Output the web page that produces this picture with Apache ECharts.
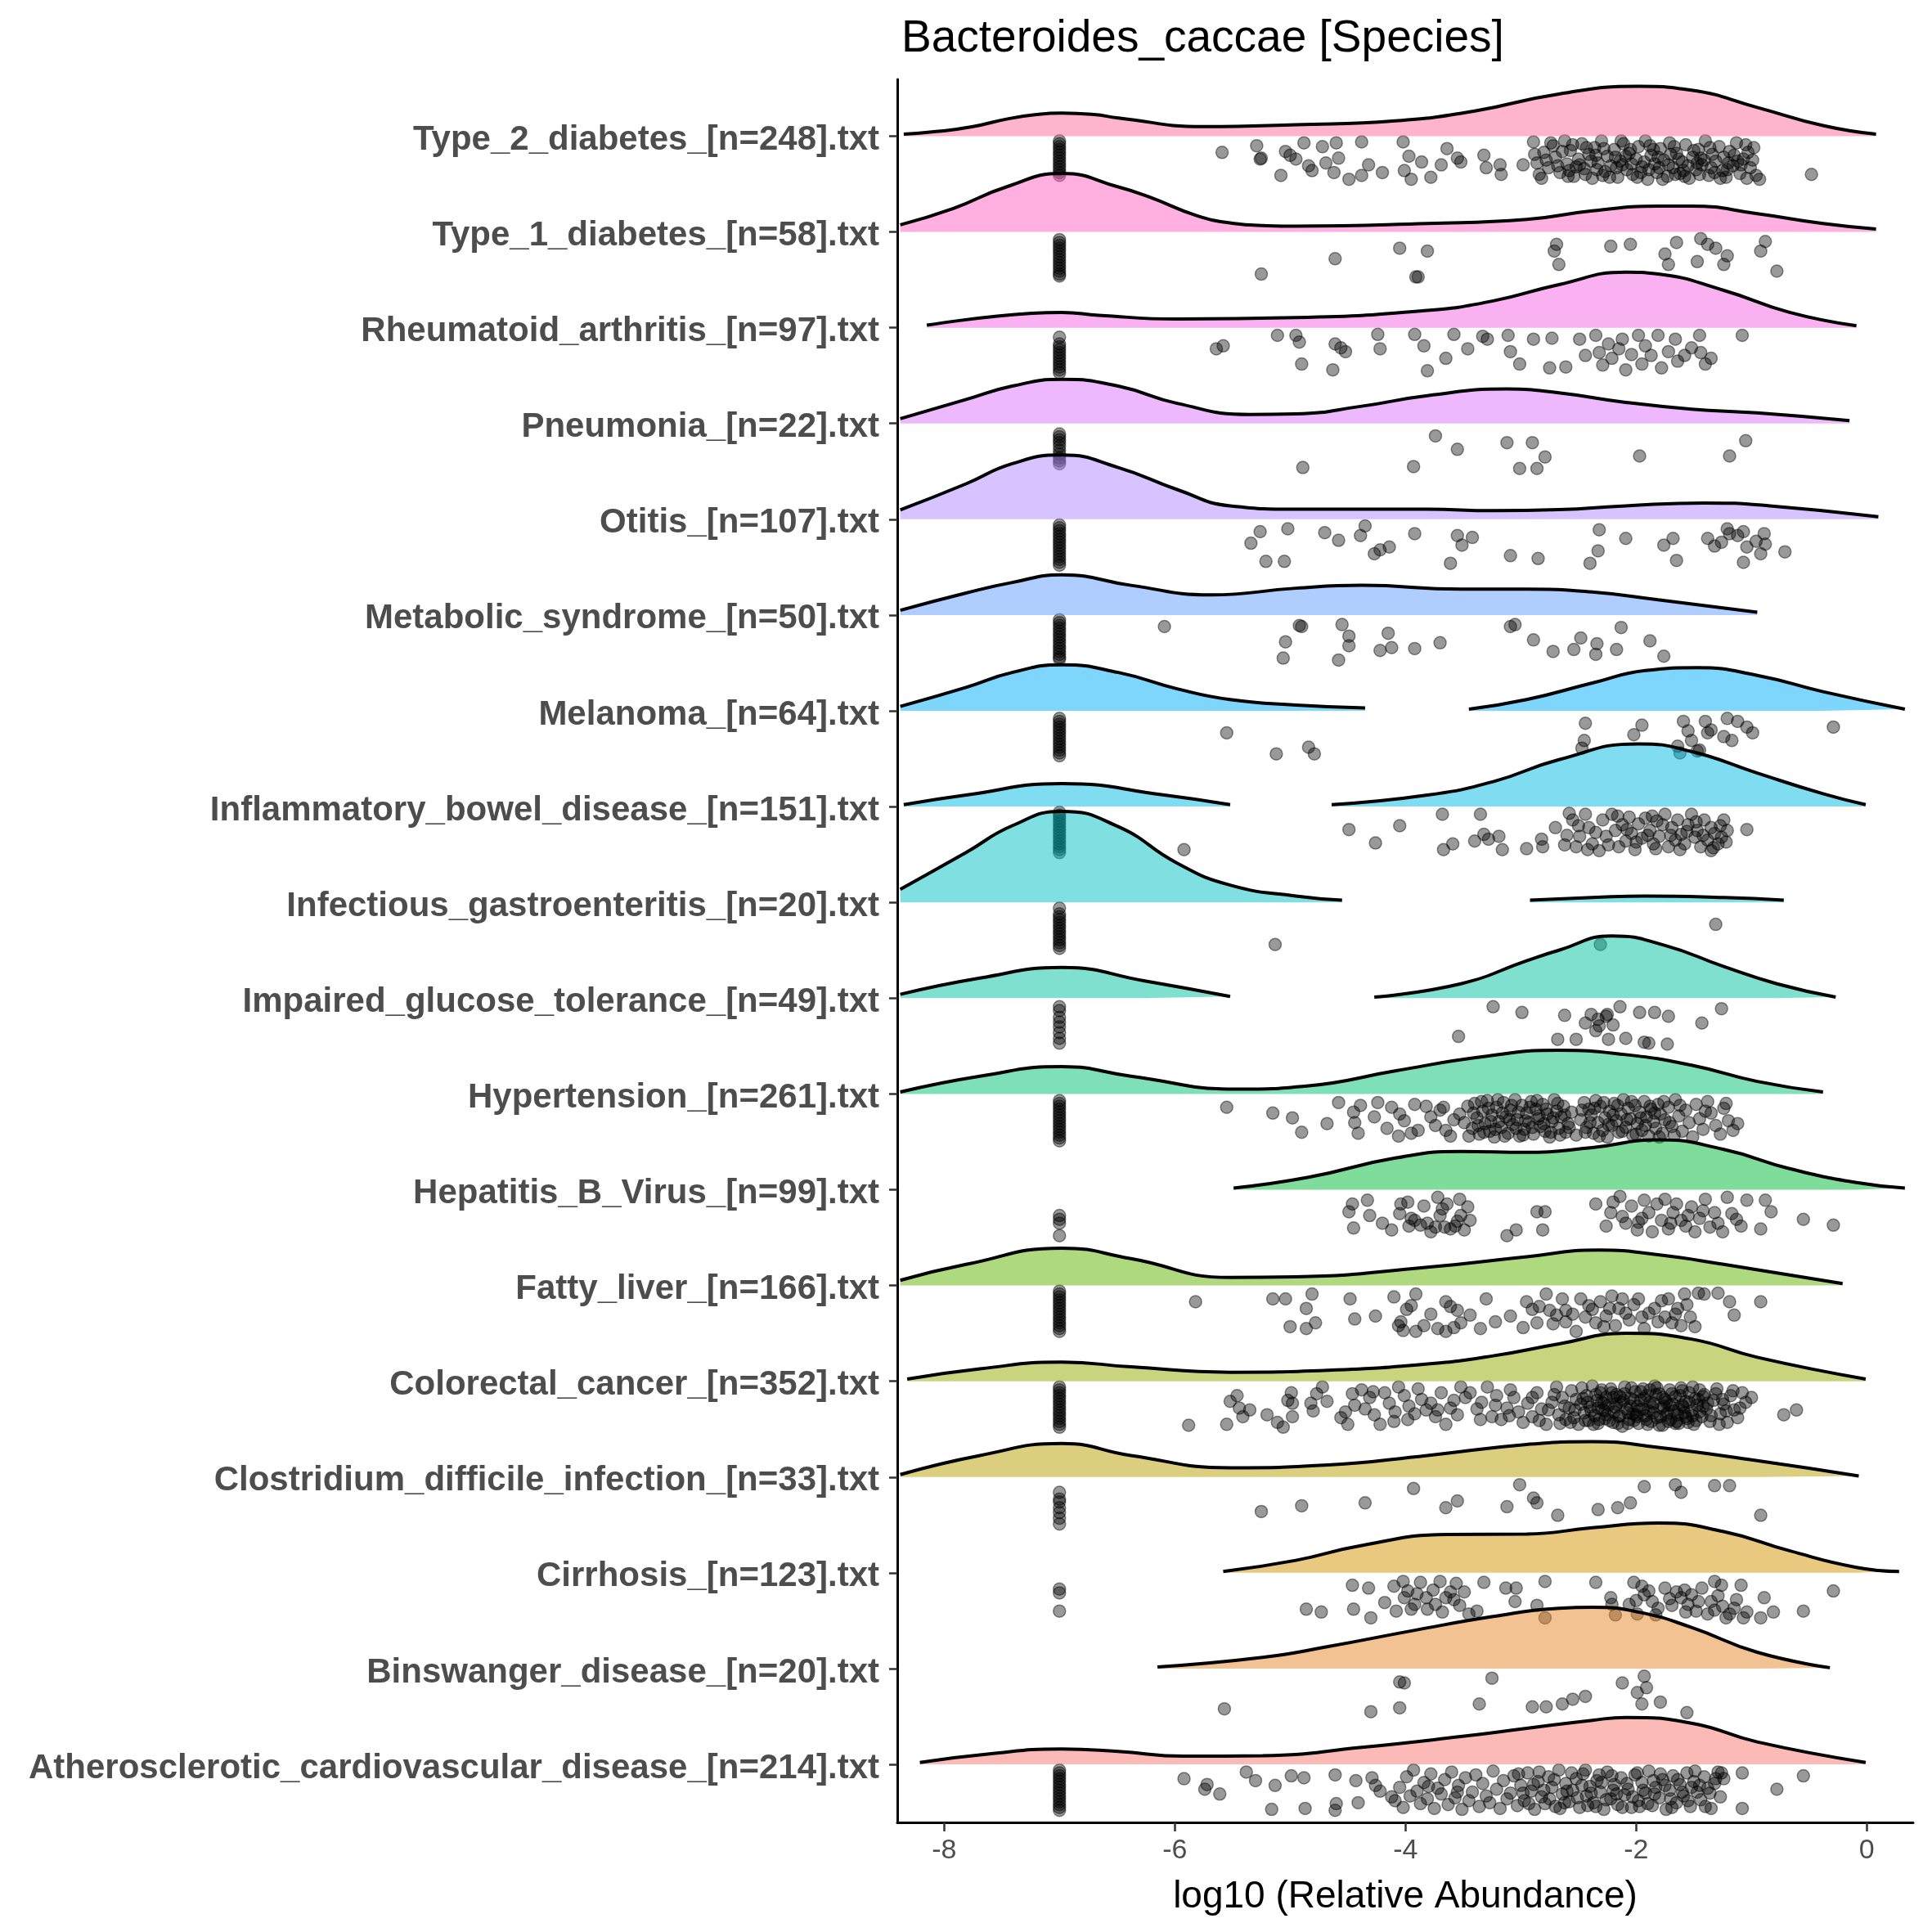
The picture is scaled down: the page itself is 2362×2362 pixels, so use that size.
<!DOCTYPE html>
<html>
<head>
<meta charset="utf-8">
<script src="https://cdn.jsdelivr.net/npm/echarts@6/dist/echarts.min.js"></script>
</head>
<body style="margin:0">
<div id="main" style="width:2362px;height:2362px;"></div>
<script type="text/javascript">
// rows, bottom to top (same order as the y axis)
var categories = [
    'Atherosclerotic_cardiovascular_disease_[n=214].txt',
    'Binswanger_disease_[n=20].txt',
    'Cirrhosis_[n=123].txt',
    'Clostridium_difficile_infection_[n=33].txt',
    'Colorectal_cancer_[n=352].txt',
    'Fatty_liver_[n=166].txt',
    'Hepatitis_B_Virus_[n=99].txt',
    'Hypertension_[n=261].txt',
    'Impaired_glucose_tolerance_[n=49].txt',
    'Infectious_gastroenteritis_[n=20].txt',
    'Inflammatory_bowel_disease_[n=151].txt',
    'Melanoma_[n=64].txt',
    'Metabolic_syndrome_[n=50].txt',
    'Otitis_[n=107].txt',
    'Pneumonia_[n=22].txt',
    'Rheumatoid_arthritis_[n=97].txt',
    'Type_1_diabetes_[n=58].txt',
    'Type_2_diabetes_[n=248].txt'
];
var xTicks = [-8, -6, -4, -2, 0];

// ridge heights [log10 abundance, height in row units], one array per segment
var densAthero = [[[-8.21,.02],[-7.64,.105],[-6.98,.16],[-6.49,.134],[-5.92,.085],[-5.24,.09],[-4.38,.177],[-3.52,.29],[-2.95,.376],[-2.38,.46],[-2.09,.49],[-1.52,.43],[-0.95,.234],[-0.01,.02]]];
var densBinswanger = [[[-6.15,.017],[-5.24,.117],[-4.67,.23],[-3.92,.40],[-3.24,.544],[-2.67,.63],[-2.38,.64],[-1.98,.59],[-1.52,.43],[-0.95,.17],[-0.32,.009]]];
var densCirrhosis = [[[-5.58,.014],[-4.95,.13],[-4.38,.285],[-3.64,.40],[-2.95,.405],[-2.38,.47],[-1.81,.52],[-1.24,.43],[-0.67,.23],[-0.09,.057],[0.28,.014]]];
var densClostridium = [[[-8.38,.026],[-7.69,.225],[-6.98,.35],[-6.38,.225],[-5.52,.097],[-4.67,.125],[-3.81,.225],[-2.95,.34],[-2.38,.37],[-1.81,.31],[-0.95,.17],[-0.07,.011]]];
var densColorectal = [[[-8.32,.023],[-7.69,.13],[-6.98,.20],[-6.38,.15],[-5.52,.094],[-4.67,.114],[-3.81,.18],[-3.24,.265],[-2.67,.39],[-2.09,.50],[-1.52,.44],[-0.95,.25],[-0.01,.023]]];
var densFatty = [[[-8.38,.054],[-7.81,.22],[-6.98,.39],[-6.38,.28],[-5.52,.083],[-4.95,.09],[-3.81,.19],[-2.95,.30],[-2.32,.37],[-1.81,.32],[-1.24,.22],[-0.21,.02]]];
var densHepB = [[[-5.49,.017],[-4.84,.13],[-4.09,.33],[-3.52,.40],[-2.95,.39],[-2.38,.44],[-1.81,.52],[-1.24,.42],[-0.67,.22],[-0.09,.074],[0.33,.017]]];
var densHypertension = [[[-8.38,.02],[-7.69,.185],[-6.98,.285],[-6.38,.185],[-5.46,.05],[-4.84,.085],[-4.09,.24],[-3.35,.385],[-2.67,.456],[-2.09,.41],[-1.52,.30],[-0.95,.13],[-0.38,.02]]];
var densImpaired = [
    [[-8.38,.04],[-7.69,.21],[-6.98,.32],[-6.26,.18],[-5.52,.017]],
    [[-4.27,.011],[-3.52,.15],[-2.95,.39],[-2.67,.5],[-2.21,.65],[-1.75,.55],[-1.24,.33],[-0.78,.15],[-0.27,.011]]
];
var densInfectious = [
    [[-8.38,.137],[-7.81,.52],[-7.41,.80],[-6.98,.95],[-6.49,.79],[-5.98,.41],[-5.52,.18],[-4.95,.066],[-4.55,.023]],
    [[-2.92,.023],[-2.38,.05],[-1.92,.066],[-1.24,.05],[-0.72,.023]]
];
var densIBD = [
    [[-8.35,.02],[-7.81,.12],[-6.98,.24],[-6.09,.12],[-5.52,.02]],
    [[-4.64,.02],[-3.81,.12],[-3.24,.26],[-2.67,.49],[-1.98,.655],[-1.52,.575],[-0.95,.35],[-0.38,.134],[-0.01,.02]]
];
var densMelanoma = [
    [[-8.38,.046],[-7.81,.245],[-7.41,.40],[-6.98,.48],[-6.49,.40],[-5.98,.23],[-5.52,.117],[-4.95,.06],[-4.35,.03]],
    [[-3.45,.017],[-2.95,.117],[-2.38,.29],[-1.92,.42],[-1.47,.45],[-0.95,.37],[-0.38,.20],[0.33,.017]]
];
var densMetabolic = [[[-8.38,.05],[-7.81,.23],[-7.41,.34],[-6.98,.42],[-6.38,.31],[-5.69,.21],[-4.95,.28],[-4.38,.31],[-3.52,.27],[-2.95,.27],[-2.38,.24],[-1.81,.16],[-0.95,.03]]];
var densOtitis = [[[-8.38,.097],[-7.81,.37],[-7.41,.58],[-6.98,.67],[-6.49,.54],[-5.98,.31],[-5.52,.14],[-4.95,.105],[-3.81,.105],[-3.24,.09],[-2.67,.10],[-2.09,.14],[-1.41,.17],[-0.84,.14],[0.10,.026]]];
var densPneumonia = [[[-8.38,.05],[-7.81,.25],[-7.41,.39],[-6.98,.46],[-6.49,.39],[-5.98,.21],[-5.35,.094],[-4.95,.10],[-4.38,.18],[-3.81,.29],[-3.12,.36],[-2.67,.32],[-2.09,.22],[-1.52,.15],[-0.95,.11],[-0.15,.03]]];
var densRheumatoid = [[[-8.15,.026],[-7.24,.15],[-6.98,.16],[-6.66,.13],[-5.98,.09],[-4.95,.105],[-3.81,.18],[-3.24,.28],[-2.67,.45],[-2.09,.58],[-1.81,.56],[-1.24,.39],[-0.67,.16],[-0.09,.02]]];
var densType1 = [[[-8.38,.074],[-7.92,.245],[-7.46,.47],[-6.98,.61],[-6.49,.47],[-6.21,.36],[-5.81,.17],[-5.50,.09],[-5.20,.065],[-4.95,.06],[-3.81,.088],[-2.95,.13],[-2.38,.22],[-1.81,.27],[-1.52,.27],[-0.95,.19],[-0.38,.088],[0.08,.03]]];
var densType2 = [[[-8.35,.02],[-8.05,.05],[-7.75,.10],[-7.45,.18],[-7.20,.225],[-6.98,.24],[-6.70,.225],[-6.49,.19],[-5.75,.10],[-4.95,.12],[-4.09,.16],[-3.41,.26],[-2.67,.44],[-1.98,.52],[-1.52,.48],[-0.95,.30],[-0.38,.11],[0.08,.02]]];

// non-zero samples [log10 abundance, drop below the row baseline]
var ptsAthero = [[-5.92,.15],[-5.74,.26],[-5.72,.21],[-5.61,.31],[-5.38,.08],[-5.30,.17],[-5.16,.47],[-5.13,.22],[-4.99,.12],[-4.88,.14],[-4.87,.46],[-4.61,.11],[-4.60,.41],[-4.61,.48],[-4.43,.17],[-4.41,.40],[-4.29,.14],[-4.26,.22],[-4.22,.28],[-4.12,.34],[-4.09,.38],
    [-4.05,.24],[-4.02,.45],[-3.99,.13],[-3.96,.33],[-3.93,.06],[-3.90,.28],[-3.87,.41],[-3.84,.19],[-3.81,.36],[-3.78,.10],[-3.75,.46],[-3.72,.25],[-3.69,.31],[-3.66,.16],[-3.63,.42],[-3.60,.08],[-3.57,.35],[-3.54,.22],[-3.51,.47],[-3.48,.14],[-3.45,.38],[-3.42,.29],[-3.39,.11],[-3.36,.44],[-3.33,.20],[-3.30,.33],[-3.27,.40],[-3.24,.07],[-3.21,.26],[-3.18,.46],[-3.15,.17],[-3.12,.36],[-3.09,.30],[-3.06,.12],[-3.03,.43],[-3.00,.22],[-2.97,.38],[-2.94,.09],[-2.91,.28],[-2.88,.47],[-2.85,.18],[-2.82,.34],[-2.79,.41],[-2.76,.13],[-2.73,.24],[-2.70,.44],[-2.67,.06],[-2.64,.31],[-2.61,.20],[-2.58,.39],[-2.55,.27],[-2.52,.15],[-2.49,.45],[-2.46,.10],[-2.43,.33],[-2.40,.23],[-2.37,.40],[-2.34,.17],[-2.31,.29],[-2.28,.47],[-2.25,.08],[-2.22,.36],[-2.19,.21],[-2.16,.42],[-2.13,.14],[-2.10,.32],[-2.07,.26],[-2.04,.45],[-2.01,.11],[-1.98,.38],[-1.95,.19],[-1.92,.30],[-1.89,.07],[-1.86,.43],[-1.83,.24],[-1.80,.35],[-1.77,.16],[-1.74,.47],[-1.71,.27],[-1.68,.12],[-1.65,.40],[-1.62,.21],[-1.59,.33],[-1.56,.09],[-1.53,.44],[-1.50,.18],[-1.47,.29],[-1.44,.37],[-1.41,.13],[-1.38,.25],[-1.35,.46],[-1.32,.20],[-1.29,.08],[-1.27,.34],[-2.42,.43],[-2.20,.27],[-1.97,.44],[-1.70,.36],[-1.52,.24],[-2.62,.40],[-2.32,.11],[-1.85,.17],
    [-1.08,.46],[-1.08,.09],[-0.78,.26],[-0.55,.12],[-1.26,.09],[-1.24,.15],
    [-3.02,.10],[-2.98,.30],[-2.93,.41],[-2.89,.21],[-2.84,.08],[-2.80,.27],[-2.75,.36],[-2.71,.16],[-2.66,.46],[-2.60,.28],[-2.56,.09],[-2.51,.35],[-2.47,.22],[-2.44,.06],[-2.39,.30],[-2.35,.44],[-2.30,.19],[-2.26,.37],[-2.21,.12],[-2.17,.31],[-2.12,.45],[-2.08,.20],[-2.03,.34],[-1.99,.09],[-1.94,.27],[-1.90,.41],[-1.84,.31],[-1.79,.10],[-1.75,.22],[-1.69,.45],[-1.64,.16],[-1.60,.29],[-1.55,.38],[-1.49,.07],[-1.45,.22],[-1.40,.44],[-1.36,.30],[-1.31,.15],[-3.55,.29],[-3.80,.23]];
var ptsBinswanger = [[-5.57,.42],[-4.30,.45],[-4.05,.41],[-4.05,.14],[-4.01,.15],[-3.36,.37],[-3.25,.10],[-2.90,.40],[-2.78,.40],[-2.64,.37],[-2.55,.32],[-2.44,.29],[-2.12,.15],[-1.99,.25],[-1.95,.37],[-1.93,.08],[-1.91,.20],[-1.79,.35],[-1.56,.46]];
var ptsCirrhosis = [[-4.86,.38],[-4.73,.41],[-4.46,.13],[-4.45,.38],[-4.32,.16],[-4.30,.47],[-4.10,.14],[-4.08,.40],[-4.02,.09],[-4.01,.26],[-3.98,.19],[-3.95,.38],[-3.92,.33],[-3.87,.10],[-3.82,.26],[-3.81,.38],[-3.76,.18],[-3.70,.09],[-3.68,.41],[-3.65,.26],[-3.61,.20],[-3.56,.11],[-3.53,.34],[-3.49,.20],[-3.45,.43],[-3.38,.40],[-3.32,.10],[-3.13,.16],[-3.05,.30],[-3.04,.16],[-2.86,.34],[-2.79,.09],[-2.79,.47],
    [-2.35,.10],[-2.22,.26],[-2.21,.33],[-2.18,.44],[-2.06,.33],[-2.02,.10],[-1.99,.43],[-1.95,.14],[-1.93,.23],[-1.89,.19],[-1.86,.30],[-1.81,.37],[-1.75,.16],[-1.69,.34],[-1.65,.20],[-1.61,.26],[-1.57,.41],[-1.52,.23],[-1.46,.30],[-1.43,.16],[-1.38,.43],[-1.32,.09],[-1.29,.24],[-1.26,.13],[-1.22,.47],[-1.19,.43],[-1.13,.28],[-1.09,.13],[-1.07,.47],[-1.04,.41],[-0.92,.47],[-0.89,.26],[-0.81,.41],[-0.55,.40],[-0.29,.19],[-1.32,.39],[-1.55,.33],
    [-3.90,.22],[-3.74,.33],[-3.58,.28],[-4.18,.31],[-1.71,.27],[-1.58,.18],[-1.48,.40],[-1.35,.30],[-1.15,.37],[-2.00,.29],[-1.83,.44],[-1.25,.35]];
var ptsClostridium = [[-5.25,.36],[-4.90,.30],[-4.35,.27],[-3.93,.12],[-3.65,.32],[-3.55,.25],[-3.12,.31],[-3.01,.08],[-2.89,.22],[-2.86,.27],[-2.68,.40],[-2.33,.34],[-2.16,.32],[-2.05,.27],[-1.93,.10],[-1.66,.08],[-1.61,.16],[-1.32,.09],[-1.19,.09],[-0.92,.40]];
var ptsColorectal = [[-5.88,.46],[-5.55,.45],[-5.52,.21],[-5.46,.15],[-5.44,.28],[-5.41,.37],[-5.20,.35],[-5.11,.43],[-5.06,.48],[-4.99,.12],[-4.98,.37],[-4.98,.23],[-4.82,.23],[-4.77,.13],[-4.72,.06],[-4.68,.21],[-4.52,.32],[-4.50,.45],[-4.46,.13],[-4.44,.25],[-4.38,.09],[-4.35,.29],[-4.31,.17],[-4.27,.35],[-4.22,.45],[-4.18,.12],[-4.14,.23],[-4.09,.32],[-4.06,.06],[-4.01,.15],[-3.98,.40],[-3.97,.26],[-3.89,.08],[-3.86,.19],[-3.82,.30],[-3.78,.23],[-3.74,.37],[-3.69,.12],[-3.65,.45],[-3.61,.28],[-3.55,.35],[-3.52,.06],[-3.48,.17],[-3.44,.12],[-3.38,.29],[-3.34,.22],[-3.29,.06],[-3.25,.37],[-3.21,.15],[-3.17,.40],[-3.12,.28],[-3.09,.09],[-3.06,.17],[-3.02,.32],[-2.98,.43],[-2.94,.23],[-2.90,.37],[-2.86,.12],[-2.82,.29],[-2.78,.45],[-2.73,.22],[-2.69,.06],[-2.67,.35],[-2.64,.17],[-2.61,.40],
    [-2.58,.28],[-2.56,.10],[-2.54,.38],[-2.52,.19],[-2.50,.45],[-2.48,.24],[-2.47,.07],[-2.45,.33],[-2.43,.15],[-2.41,.41],[-2.40,.27],[-2.38,.05],[-2.36,.36],[-2.34,.20],[-2.33,.44],[-2.31,.12],[-2.29,.30],[-2.27,.39],[-2.26,.17],[-2.24,.25],[-2.22,.08],[-2.20,.43],[-2.19,.32],[-2.17,.14],[-2.15,.37],[-2.13,.22],[-2.12,.47],[-2.10,.06],[-2.08,.29],[-2.06,.40],[-2.05,.18],[-2.03,.34],[-2.01,.11],[-1.99,.26],[-1.98,.44],[-1.96,.20],[-1.94,.08],[-1.92,.36],[-1.91,.15],[-1.89,.31],[-1.87,.42],[-1.85,.23],[-1.84,.05],[-1.82,.38],[-1.80,.13],[-1.78,.28],[-1.77,.46],[-1.75,.19],[-1.73,.33],[-1.71,.09],[-1.70,.40],[-1.68,.24],[-1.66,.16],[-1.64,.35],[-1.63,.44],[-1.61,.07],[-1.59,.27],[-1.57,.21],[-1.56,.39],[-1.54,.12],[-1.52,.31],[-1.50,.45],[-1.49,.18],[-1.47,.25],[-1.45,.09],[-1.43,.37],[-1.41,.14],[-1.39,.29],[-1.36,.42],[-1.33,.20],[-1.30,.08],[-1.27,.34],[-1.24,.24],[-1.21,.43],[-1.18,.15],[-1.15,.30],[-1.12,.38],[-1.08,.12],[-1.05,.22],[-1.00,.17],[-0.72,.35],[-0.61,.30],[-2.30,.22],[-2.00,.35],[-1.76,.26],[-1.58,.33],[-2.44,.41],[-2.14,.16],[-1.88,.09],[-1.65,.42],
    [-2.39,.31],[-2.35,.14],[-2.32,.40],[-2.28,.23],[-2.25,.35],[-2.21,.12],[-2.18,.27],[-2.16,.44],[-2.11,.20],[-2.07,.33],[-2.04,.07],[-2.02,.41],[-1.97,.30],[-1.93,.18],[-1.90,.45],[-1.86,.27],[-1.83,.14],[-1.79,.37],[-1.74,.22],[-1.72,.42],[-1.67,.31],[-1.62,.15],[-1.60,.25],[-1.55,.43],[-1.51,.36],[-1.46,.19],[-2.46,.18],[-2.53,.30],[-2.57,.43],[-1.42,.26],
    [-2.42,.22],[-2.37,.45],[-2.33,.28],[-2.30,.09],[-2.27,.31],[-2.23,.41],[-2.20,.17],[-2.17,.24],[-2.14,.36],[-2.10,.13],[-2.07,.44],[-2.05,.26],[-2.02,.20],[-1.99,.37],[-1.96,.11],[-1.94,.29],[-1.91,.40],[-1.88,.22],[-1.85,.33],[-1.82,.07],[-1.80,.46],[-1.77,.17],[-1.74,.35],[-1.71,.25],[-1.69,.13],[-1.66,.44],[-1.63,.29],[-1.60,.10],[-1.57,.37],[-1.54,.22],[-1.51,.06],[-1.48,.41],[-1.45,.32],[-1.42,.16],[-1.38,.23],[-1.35,.36],[-1.31,.13],[-1.28,.45],[-1.25,.19],[-1.22,.31],
    [-2.90,.17],[-2.84,.41],[-2.76,.30],[-2.71,.14],[-2.66,.44],[-2.62,.26],[-3.10,.36],[-3.22,.25],[-3.35,.40],[-3.58,.20],[-3.72,.30],[-3.92,.34],[-4.10,.42],[-4.28,.11],[-4.56,.38],[-4.80,.31],[-5.02,.20],[-5.35,.30],[-1.16,.10],[-1.10,.28]];
var ptsFatty = [[-5.82,.17],[-5.15,.14],[-5.04,.14],[-4.81,.09],[-4.86,.24],[-4.78,.39],[-5.00,.43],[-4.86,.45],[-4.48,.14],[-4.44,.35],[-4.26,.32],[-4.10,.12],[-4.06,.42],[-4.04,.38],[-3.99,.25],[-3.95,.21],[-3.91,.09],[-3.91,.48],[-3.84,.42],[-3.72,.45],[-3.65,.48],[-3.65,.17],[-3.61,.22],[-3.55,.26],[-3.52,.39],[-3.44,.31],[-3.30,.14],[-3.22,.38],[-3.09,.32],[-2.95,.17],[-2.90,.25],[-2.86,.39],[-2.84,.22],[-2.78,.09],[-2.75,.26],[-2.69,.31],[-2.64,.14],[-2.61,.38],[-2.52,.48],[-2.48,.14],[-2.41,.21],[-2.38,.25],[-2.35,.39],[-2.26,.32],[-2.21,.11],[-2.18,.42],[-2.12,.14],[-2.09,.29],[-2.06,.36],[-1.98,.14],[-1.93,.45],[-1.89,.29],[-1.84,.24],[-1.75,.33],[-1.72,.14],[-1.69,.39],[-1.64,.24],[-1.58,.09],[-1.53,.33],[-1.49,.43],[-1.46,.08],[-1.41,.09],[-1.29,.08],[-1.19,.17],[-1.15,.31],[-0.92,.17],[-2.61,.26],[-2.28,.43],[-2.15,.24],[-1.81,.38],[-1.61,.42],
    [-2.72,.40],[-2.55,.30],[-2.44,.33],[-2.31,.17],[-2.23,.24],[-2.02,.20],[-1.95,.33],[-1.78,.16],[-1.66,.30],[-1.56,.20],[-3.35,.45],[-3.78,.30],[-4.02,.47],[-3.58,.44],[-2.98,.44]];
var ptsHepB = [[-4.46,.15],[-4.49,.23],[-4.45,.40],[-4.33,.11],[-4.31,.27],[-4.12,.42],[-4.05,.25],[-3.98,.13],[-3.97,.38],[-3.92,.32],[-3.84,.17],[-3.81,.35],[-3.78,.44],[-3.72,.08],[-3.70,.27],[-3.66,.39],[-3.64,.15],[-3.61,.41],[-3.57,.38],[-3.53,.10],[-3.52,.27],[-3.49,.42],[-3.46,.18],[-3.44,.32],[-4.04,.15],[-3.87,.37],[-3.74,.39],
    [-3.12,.48],[-3.04,.42],[-2.86,.23],[-2.81,.42],[-2.79,.23],
    [-2.35,.15],[-2.26,.38],[-2.22,.24],[-2.20,.13],[-2.14,.07],[-2.09,.35],[-2.04,.17],[-1.99,.42],[-1.98,.34],[-1.93,.11],[-1.89,.24],[-1.86,.44],[-1.82,.15],[-1.78,.32],[-1.75,.10],[-1.72,.41],[-1.68,.24],[-1.65,.15],[-1.61,.32],[-1.57,.38],[-1.52,.18],[-1.49,.44],[-1.45,.30],[-1.40,.10],[-1.36,.39],[-1.32,.24],[-1.29,.35],[-1.21,.08],[-1.17,.25],[-1.13,.31],[-1.09,.38],[-1.04,.11],[-0.92,.41],[-0.88,.11],[-0.83,.23],[-0.55,.31],[-0.29,.37],
    [-3.95,.30],[-3.68,.20],[-3.55,.33],[-4.20,.35],[-1.95,.30],[-1.70,.35],[-1.55,.27],[-1.42,.22],[-1.25,.44],[-2.12,.28]];
var ptsHypertension = [[-5.55,.14],[-5.15,.20],[-4.98,.25],[-4.90,.40],[-4.68,.31],[-4.58,.09],[-4.44,.30],[-4.45,.19],[-4.39,.12],[-4.41,.41],[-4.27,.24],[-4.24,.09],[-4.16,.36],[-4.12,.14],[-4.06,.44],[-4.05,.21],[-4.01,.28],[-3.95,.41],[-3.92,.11],[-3.89,.38],[-3.82,.13],[-3.78,.24],[-3.74,.33],[-3.70,.17],[-3.67,.14],[-3.65,.38],[-3.61,.44],[-3.58,.27],[-3.53,.21],[-3.49,.30],[-3.46,.13],[-3.45,.44],
    [-3.42,.36],[-3.40,.10],[-3.38,.25],[-3.36,.42],[-3.33,.18],[-3.31,.31],[-3.29,.07],[-3.27,.39],[-3.25,.22],[-3.23,.45],[-3.21,.14],[-3.19,.29],[-3.17,.35],[-3.15,.09],[-3.13,.24],[-3.11,.41],[-3.09,.17],[-3.07,.32],[-3.05,.06],[-3.03,.27],[-3.01,.44],[-2.99,.12],[-2.97,.37],[-2.95,.20],[-2.93,.30],[-2.91,.08],[-2.89,.42],[-2.87,.16],[-2.85,.26],[-2.83,.34],[-2.81,.11],[-2.79,.39],[-2.77,.21],[-2.75,.45],[-2.73,.29],[-2.71,.06],[-2.69,.18],[-2.67,.36],[-2.65,.24],[-2.63,.13],[-2.61,.40],[-2.59,.31],[-2.56,.19],[-2.52,.43],[-2.48,.27],[-2.45,.09],[-2.43,.35],[-2.41,.16],[-2.39,.22],[-2.37,.41],[-2.35,.07],[-2.33,.30],[-2.31,.13],[-2.29,.38],[-2.27,.25],[-2.25,.45],[-2.23,.18],[-2.21,.33],[-2.19,.10],[-2.17,.28],[-2.15,.40],[-2.13,.21],[-2.11,.06],[-2.09,.35],[-2.07,.15],[-2.05,.26],[-2.03,.43],[-2.01,.12],[-1.99,.31],[-1.97,.19],[-1.95,.38],[-1.93,.08],[-1.91,.24],[-1.89,.44],[-1.87,.16],[-1.85,.29],[-1.83,.36],[-1.81,.11],[-1.79,.21],[-1.77,.41],[-1.75,.27],[-1.72,.14],[-1.69,.34],[-1.66,.06],[-1.63,.23],[-1.60,.39],[-1.57,.17],[-1.54,.30],[-1.51,.45],[-1.48,.11],[-1.45,.26],[-1.42,.37],[-1.38,.08],[-1.35,.20],[-1.31,.33],[-1.27,.42],[-1.24,.15],[-1.20,.28],[-1.16,.38],[-1.12,.31],[-1.22,.10],[-1.40,.18],
    [-3.41,.20],[-3.37,.33],[-3.34,.08],[-3.32,.40],[-3.28,.15],[-3.26,.29],[-3.22,.37],[-3.20,.06],[-3.16,.20],[-3.14,.44],[-3.10,.27],[-3.08,.12],[-3.04,.36],[-3.02,.19],[-2.98,.43],[-2.96,.28],[-2.92,.14],[-2.90,.35],[-2.86,.07],[-2.84,.23],[-2.80,.31],[-2.78,.16],[-2.74,.40],[-2.72,.25],[-2.68,.10],[-2.66,.43],[-2.62,.22],[-2.58,.35],
    [-2.47,.17],[-2.44,.40],[-2.40,.30],[-2.36,.15],[-2.32,.44],[-2.28,.09],[-2.24,.32],[-2.20,.22],[-2.16,.12],[-2.12,.39],[-2.08,.27],[-2.04,.08],[-2.00,.42],[-1.96,.25],[-1.92,.33],[-1.88,.13],[-1.84,.20],[-1.80,.45],[-1.76,.08],[-1.71,.30],[-1.67,.43],[-1.62,.12]];
var ptsImpaired = [[-3.24,.09],[-2.99,.15],[-2.62,.18],[-3.54,.40],[-2.68,.43],[-2.52,.43],[-2.44,.26],[-2.39,.17],[-2.35,.34],[-2.32,.29],[-2.25,.17],[-2.24,.43],[-2.20,.28],[-2.14,.09],[-2.09,.42],[-1.97,.15],[-1.93,.46],[-1.89,.47],[-1.84,.15],[-1.72,.19],[-1.73,.48],[-1.43,.26],[-1.26,.11],[-2.26,.19],[-2.33,.22]];
var ptsInfectious = [[-5.13,.44],[-2.31,.44],[-1.31,.23]];
var ptsIBD = [[-5.92,.45],[-4.49,.24],[-4.26,.38],[-4.05,.20],[-3.68,.08],[-3.67,.45],[-3.59,.39],[-3.40,.36],[-3.35,.08],[-3.32,.29],[-3.28,.34],[-3.19,.31],[-3.16,.45],[-2.95,.44],[-2.82,.34],[-2.81,.42],[-2.70,.22],[-2.62,.40],[-2.58,.07],[-2.55,.14],[-2.52,.42],[-2.49,.31],[-2.44,.08],[-2.41,.22],[-2.38,.39],[-2.32,.46],[-2.29,.14],[-2.26,.31],[-2.21,.08],[-2.18,.25],[-2.15,.42],[-2.12,.19],[-2.09,.36],[-2.06,.11],[-2.04,.28],[-2.01,.45],[-1.98,.18],[-1.95,.33],[-1.92,.12],[-1.88,.25],[-1.85,.39],[-1.82,.15],[-1.80,.31],[-1.75,.08],[-1.72,.42],[-1.69,.22],[-1.66,.35],[-1.64,.14],[-1.61,.29],[-1.58,.39],[-1.55,.19],[-1.52,.08],[-1.49,.32],[-1.47,.25],[-1.44,.42],[-1.41,.14],[-1.38,.35],[-1.35,.22],[-1.32,.28],[-1.29,.39],[-1.26,.32],[-1.24,.14],[-1.21,.25],[-1.04,.24],[-1.35,.46],
    [-2.60,.30],[-2.50,.20],[-2.42,.45],[-2.35,.27],[-2.24,.40],[-2.16,.10],[-2.08,.24],[-2.00,.37],[-1.90,.30],[-1.83,.44],[-1.77,.19],[-1.70,.30],[-1.62,.45],[-1.56,.26],[-1.48,.16],[-1.42,.30],[-1.33,.43],[-1.27,.20],[-1.22,.37],[-1.86,.10]];
var ptsMelanoma = [[-5.55,.23],[-5.12,.45],[-4.84,.38],[-4.79,.45],[-2.44,.13],[-2.45,.31],[-2.47,.39],[-2.02,.25],[-1.95,.15],[-1.64,.37],[-1.59,.11],[-1.55,.21],[-1.52,.31],[-1.45,.41],[-1.40,.11],[-1.38,.23],[-1.35,.20],[-1.24,.27],[-1.21,.08],[-1.17,.31],[-1.12,.11],[-1.04,.17],[-0.99,.23],[-0.29,.17],[-1.62,.44],[-1.47,.42]];
var ptsMetabolic = [[-6.09,.12],[-4.92,.11],[-4.90,.12],[-5.04,.28],[-5.06,.45],[-4.55,.10],[-4.49,.22],[-4.49,.32],[-4.58,.47],[-4.22,.37],[-4.15,.19],[-4.12,.34],[-3.92,.35],[-3.70,.29],[-3.09,.12],[-3.05,.10],[-2.89,.26],[-2.72,.38],[-2.54,.36],[-2.48,.24],[-2.35,.41],[-2.34,.30],[-2.17,.36],[-2.13,.13],[-1.88,.27],[-1.76,.43]];
var ptsOtitis = [[-5.26,.13],[-5.34,.25],[-5.21,.44],[-5.05,.44],[-5.02,.10],[-4.70,.14],[-4.58,.22],[-4.35,.07],[-4.39,.17],[-4.27,.36],[-4.22,.32],[-4.14,.29],[-3.92,.15],[-3.61,.46],[-3.55,.17],[-3.51,.27],[-3.42,.19],[-3.09,.38],[-2.85,.41],[-2.32,.11],[-2.33,.33],[-2.40,.46],[-2.09,.20],[-1.76,.27],[-1.68,.20],[-1.65,.43],[-1.38,.20],[-1.32,.28],[-1.26,.24],[-1.21,.10],[-1.19,.15],[-1.12,.17],[-1.07,.13],[-1.04,.29],[-0.96,.23],[-0.92,.36],[-0.89,.15],[-0.88,.26],[-1.07,.45],[-0.71,.34]];
var ptsPneumonia = [[-4.89,.46],[-3.93,.45],[-3.74,.13],[-3.55,.27],[-3.12,.20],[-2.90,.20],[-2.79,.35],[-3.01,.47],[-2.86,.47],[-1.97,.34],[-1.19,.34],[-1.05,.18]];
var ptsRheumatoid = [[-5.64,.22],[-5.58,.19],[-5.11,.08],[-4.95,.08],[-4.92,.15],[-4.90,.38],[-4.63,.44],[-4.61,.17],[-4.56,.21],[-4.52,.25],[-4.24,.07],[-4.22,.22],[-3.92,.07],[-3.84,.19],[-3.81,.45],[-3.65,.32],[-3.58,.07],[-3.46,.22],[-3.33,.09],[-3.29,.12],[-3.11,.08],[-3.09,.25],[-3.01,.38],[-2.89,.12],[-2.73,.11],[-2.75,.42],[-2.61,.41],[-2.49,.12],[-2.44,.29],[-2.35,.08],[-2.32,.26],[-2.29,.39],[-2.24,.17],[-2.21,.32],[-2.15,.22],[-2.12,.12],[-2.09,.44],[-2.04,.28],[-1.98,.08],[-1.95,.38],[-1.92,.19],[-1.87,.29],[-1.81,.08],[-1.78,.42],[-1.72,.25],[-1.66,.12],[-1.64,.35],[-1.58,.29],[-1.52,.21],[-1.45,.08],[-1.44,.26],[-1.40,.38],[-1.35,.32],[-1.08,.08]];
var ptsType1 = [[-5.25,.44],[-4.61,.28],[-4.05,.17],[-3.91,.47],[-3.89,.47],[-3.81,.20],[-2.69,.13],[-2.71,.20],[-2.67,.34],[-2.22,.15],[-2.05,.13],[-1.75,.23],[-1.72,.34],[-1.65,.11],[-1.47,.31],[-1.44,.07],[-1.38,.13],[-1.31,.17],[-1.24,.34],[-1.21,.25],[-0.92,.20],[-0.88,.10],[-0.78,.41]];
var ptsType2 = [[-5.59,.17],[-5.29,.10],[-5.26,.24],[-5.25,.23],[-5.08,.41],[-5.04,.16],[-5.00,.20],[-4.95,.24],[-4.88,.07],[-4.84,.31],[-4.81,.36],[-4.72,.11],[-4.69,.28],[-4.62,.38],[-4.60,.07],[-4.58,.23],[-4.49,.45],[-4.38,.06],[-4.38,.41],[-4.32,.30],[-4.20,.38],[-4.02,.06],[-4.01,.36],[-3.97,.21],[-3.95,.45],[-3.86,.27],[-3.78,.43],[-3.69,.30],[-3.64,.13],[-3.55,.23],[-3.52,.27],[-3.32,.20],[-3.30,.33],[-3.18,.30],[-3.17,.40],[-2.98,.30],[-2.89,.06],
    [-2.86,.28],[-2.84,.40],[-2.80,.17],[-2.76,.33],[-2.72,.10],[-2.70,.22],[-2.66,.38],[-2.62,.05],[-2.60,.29],[-2.57,.15],[-2.54,.42],[-2.50,.24],[-2.47,.08],[-2.45,.34],[-2.41,.19],[-2.38,.44],[-2.36,.12],[-2.33,.28],[-2.30,.05],[-2.27,.37],[-2.25,.21],[-2.22,.31],[-2.19,.14],[-2.16,.43],[-2.14,.26],[-2.11,.08],[-2.08,.35],[-2.06,.18],[-2.03,.40],[-2.00,.24],[-1.98,.11],[-1.95,.32],[-1.92,.05],[-1.90,.45],[-1.87,.20],[-1.84,.29],[-1.82,.38],[-1.79,.13],[-1.76,.25],[-1.73,.42],[-1.71,.07],[-1.68,.33],[-1.65,.18],[-1.62,.39],[-1.60,.27],[-1.57,.09],[-1.54,.44],[-1.51,.22],[-1.48,.35],[-1.46,.14],[-1.43,.30],[-1.40,.05],[-1.37,.41],[-1.34,.19],[-1.31,.26],[-1.28,.11],[-1.25,.36],[-1.22,.43],[-1.19,.16],[-1.16,.31],[-1.13,.07],[-1.10,.39],[-1.07,.24],[-1.04,.44],[-1.01,.33],[-0.98,.12],[-0.96,.41],[-0.93,.45],[-2.58,.36],[-2.35,.20],[-2.12,.30],[-1.88,.10],[-1.66,.40],[-1.44,.23],[-1.20,.28],[-0.48,.40],
    [-2.52,.32],[-2.43,.12],[-2.29,.41],[-2.18,.22],[-2.05,.14],[-1.96,.38],[-1.80,.33],[-1.70,.19],[-1.59,.36],[-1.47,.28],[-1.35,.33],[-1.24,.22],[-1.12,.26],[-1.03,.17],
    [-2.88,.19],[-2.82,.44],[-2.78,.25],[-2.74,.07],[-2.68,.31],[-2.64,.16],[-2.59,.42],[-2.55,.09],[-2.49,.30],[-2.44,.40],[-2.39,.26],[-2.34,.35],[-2.28,.13],[-2.23,.43],[-2.17,.33],[-2.13,.05],[-2.09,.21],[-2.04,.29],[-1.99,.43],[-1.93,.27],[-1.89,.35],[-1.85,.14],[-1.81,.22],[-1.77,.45],[-1.72,.30],[-1.67,.11],[-1.63,.24],[-1.58,.42],[-1.55,.31],[-1.50,.15],[-1.45,.40],[-1.41,.25],[-1.36,.12],[-1.32,.38],[-1.27,.44],[-1.21,.35],[-1.15,.20],[-1.09,.30],[-1.05,.09],[-0.99,.25]];

// samples at the detection floor (log10 = -7), drop below baseline
var zeroValue = -7;
var zeroAthero = [.06,.09,.12,.15,.18,.21,.24,.27,.30,.33,.36,.39,.42,.45,.48];
var zeroBinswanger = [];
var zeroCirrhosis = [.17,.21,.40];
var zeroClostridium = [.16,.23,.26,.32,.37,.43,.49];
var zeroColorectal = [.06,.09,.12,.15,.18,.21,.24,.27,.30,.33,.36,.39,.42,.45,.48];
var zeroFatty = [.06,.09,.12,.15,.18,.21,.24,.27,.30,.33,.36,.39,.42,.45,.48];
var zeroHepB = [.27,.31,.35,.48];
var zeroHypertension = [.07,.10,.13,.16,.19,.22,.25,.28,.31,.34,.37,.40,.43,.46,.49];
var zeroImpaired = [.09,.13,.20,.25,.30,.36,.42,.47];
var zeroInfectious = [.06,.12,.15,.18,.21,.24,.27,.30,.33,.36,.39,.42,.45,.48];
var zeroIBD = [.06,.09,.12,.15,.18,.21,.24,.27,.30,.33,.36,.39,.42,.45,.48];
var zeroMelanoma = [.08,.11,.14,.17,.20,.23,.26,.29,.32,.35,.38,.41,.44,.47];
var zeroMetabolic = [.05,.08,.11,.14,.17,.20,.23,.26,.29,.32,.35,.38,.41,.44,.46];
var zeroOtitis = [.06,.09,.12,.15,.18,.21,.24,.27,.30,.33,.36,.39,.42,.45,.48];
var zeroPneumonia = [.11,.14,.17,.20,.24,.28,.32,.36,.39,.42];
var zeroRheumatoid = [.10,.17,.20,.23,.26,.29,.32,.35,.38,.41,.44,.47];
var zeroType1 = [.08,.11,.14,.17,.20,.23,.26,.29,.32,.35,.38,.41,.44,.46];
var zeroType2 = [.05,.08,.11,.14,.17,.20,.23,.26,.29,.32,.35,.38,.41];

var densities = [densAthero, densBinswanger, densCirrhosis, densClostridium, densColorectal, densFatty, densHepB, densHypertension, densImpaired, densInfectious, densIBD, densMelanoma, densMetabolic, densOtitis, densPneumonia, densRheumatoid, densType1, densType2];
var points = [ptsAthero, ptsBinswanger, ptsCirrhosis, ptsClostridium, ptsColorectal, ptsFatty, ptsHepB, ptsHypertension, ptsImpaired, ptsInfectious, ptsIBD, ptsMelanoma, ptsMetabolic, ptsOtitis, ptsPneumonia, ptsRheumatoid, ptsType1, ptsType2];
var zeros = [zeroAthero, zeroBinswanger, zeroCirrhosis, zeroClostridium, zeroColorectal, zeroFatty, zeroHepB, zeroHypertension, zeroImpaired, zeroInfectious, zeroIBD, zeroMelanoma, zeroMetabolic, zeroOtitis, zeroPneumonia, zeroRheumatoid, zeroType1, zeroType2];

// ggplot hue palette, 18 levels
var palette = ['#F8766D','#E88526','#D39200','#B79F00','#93AA00','#5EB300','#00BA38','#00BF74','#00C19F','#00BFC4','#00B9E3','#00ADFA','#619CFF','#AE87FF','#DB72FB','#F564E3','#FF61C3','#FF699C'];
var font = 'Liberation Sans';

var myChart = echarts.init(document.getElementById('main'));

// top row first, so lower rows sit on top of the points above them
var series = [];
for (var p = categories.length - 1; p >= 0; p--) {
    densities[p].forEach(function (seg) {
        series.push({
            type: 'line',
            silent: true,
            data: seg.map(function (d) { return [d[0], p + d[1]]; }),
            smooth: 0.5,
            showSymbol: false,
            lineStyle: { color: '#000', width: 4 },
            areaStyle: { color: palette[p], opacity: 0.5, origin: p }
        });
    });
    var pts = points[p].map(function (d) { return [d[0], p - d[1]]; })
        .concat(zeros[p].map(function (z) { return [zeroValue, p - z]; }));
    series.push({
        type: 'scatter',
        silent: true,
        data: pts,
        symbolSize: 15,
        itemStyle: { color: 'rgba(0,0,0,0.5)', borderColor: 'rgba(0,0,0,0.55)', borderWidth: 1.5 }
    });
}

var rowTicks = categories.map(function (c, i) { return i; });

option = {
    animation: false,
    backgroundColor: '#fff',
    title: {
        text: 'Bacteroides_caccae [Species]',
        left: 1097,
        top: 15,
        textStyle: { fontSize: 55, fontWeight: 'normal', color: '#000', fontFamily: font }
    },
    grid: { left: 1097, right: 23, top: 97, bottom: 134 },
    xAxis: {
        type: 'value',
        min: -8.406,
        max: 0.402,
        name: 'log10 (Relative Abundance)',
        nameLocation: 'middle',
        nameGap: 68,
        nameTextStyle: { fontSize: 46, color: '#000', fontFamily: font },
        axisLine: { onZero: false, lineStyle: { color: '#000', width: 3 } },
        axisTick: { customValues: xTicks, length: 11, lineStyle: { color: '#333', width: 2.5 } },
        axisLabel: { customValues: xTicks, fontSize: 34, color: '#4D4D4D', margin: 18, fontFamily: font },
        splitLine: { show: false }
    },
    yAxis: {
        type: 'value',
        min: -0.606,
        max: 17.593,
        axisLine: { show: true, onZero: false, lineStyle: { color: '#000', width: 3 } },
        axisTick: { show: true, customValues: rowTicks, length: 10, lineStyle: { color: '#333', width: 2.5 } },
        axisLabel: {
            customValues: rowTicks,
            formatter: function (v) { return categories[Math.round(v)]; },
            fontSize: 42, fontWeight: 'bold', color: '#4D4D4D', margin: 22, fontFamily: font,
            verticalAlign: 'top', lineHeight: 10
        },
        splitLine: { show: false }
    },
    series: series
};

myChart.setOption(option);
</script>
</body>
</html>
